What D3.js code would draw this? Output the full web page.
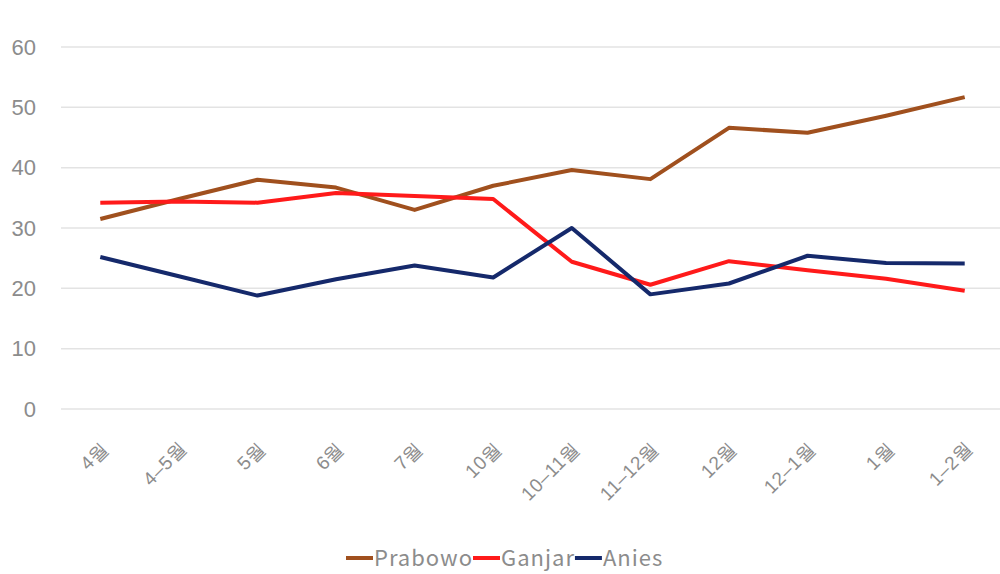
<!DOCTYPE html>
<html>
<head>
<meta charset="utf-8">
<script src="https://cdn.jsdelivr.net/npm/d3@7"></script>
<style>
  body { margin: 0; background: #fff; }
  svg { display: block; font-family: "Noto Sans CJK KR", "Noto Sans", sans-serif; }
  .grid line { stroke: #e3e3e3; stroke-width: 1.5; }
  .tick text { fill: #8c8c8c; }
</style>
</head>
<body>
<svg id="chart" width="1000" height="574"></svg>
<script>
// categories and series
var months = ['4월', '4–5월', '5월', '6월', '7월', '10월', '10–11월', '11–12월', '12월', '12–1월', '1월', '1–2월'];
var prabowo = [31.5, 34.8, 38.0, 36.7, 33.0, 37.0, 39.6, 38.1, 46.6, 45.8, 48.6, 51.7];
var ganjar = [34.2, 34.4, 34.2, 35.8, 35.3, 34.8, 24.4, 20.6, 24.5, 23.0, 21.6, 19.6];
var anies = [25.2, 22.0, 18.8, 21.5, 23.8, 21.8, 30.0, 19.0, 20.8, 25.4, 24.2, 24.1];
var yTicks = [0, 10, 20, 30, 40, 50, 60];

var series = [
  {name: 'Prabowo', color: '#a0501e', values: prabowo},
  {name: 'Ganjar', color: '#ff1a1a', values: ganjar},
  {name: 'Anies', color: '#15296b', values: anies}
];

var svg = d3.select('#chart');
var plotLeft = 61, plotRight = 1004, plotTop = 47, plotBottom = 409;

// Scales
var x = d3.scalePoint().domain(months).range([plotLeft, plotRight]).padding(0.5);
var y = d3.scaleLinear().domain([0, 60]).range([plotBottom, plotTop]);

// Horizontal grid
svg.append('g')
  .attr('class', 'grid')
  .selectAll('line')
  .data(yTicks).enter()
  .append('line')
  .attr('x1', plotLeft).attr('x2', 1000)
  .attr('y1', function(d) { return y(d); })
  .attr('y2', function(d) { return y(d); });

// Y axis labels
var yAxis = svg.append('g')
  .attr('transform', 'translate(36,0)')
  .call(d3.axisLeft(y).tickValues(yTicks).tickSize(0).tickPadding(0));
yAxis.select('.domain').remove();
yAxis.selectAll('text').style('font-size', '22px');

// X axis labels, rotated
var xAxis = svg.append('g')
  .attr('transform', 'translate(0,' + (plotBottom + 36) + ')')
  .call(d3.axisBottom(x).tickSize(0).tickPadding(0));
xAxis.select('.domain').remove();
xAxis.selectAll('text')
  .style('font-size', '19px')
  .style('letter-spacing', '0.5px')
  .attr('y', 0)
  .attr('text-anchor', 'end')
  .attr('dy', '0.35em')
  .attr('transform', 'translate(4,0) rotate(-45)');

// Lines
var line = d3.line()
  .x(function(d, i) { return x(months[i]); })
  .y(function(d) { return y(d); });

svg.selectAll('.series')
  .data(series).enter()
  .append('path')
  .attr('class', 'series')
  .attr('fill', 'none')
  .attr('stroke', function(d) { return d.color; })
  .attr('stroke-width', 4)
  .attr('stroke-linejoin', 'round')
  .attr('d', function(d) { return line(d.values); });

// Legend
var legend = svg.append('g').attr('transform', 'translate(0,558)');
var lx = 346;
series.forEach(function(s) {
  legend.append('line')
    .attr('x1', lx).attr('x2', lx + 27)
    .attr('y1', 0).attr('y2', 0)
    .attr('stroke', s.color).attr('stroke-width', 4);
  var t = legend.append('text')
    .attr('x', lx + 28).attr('y', 0).attr('dy', '0.35em')
    .style('font-size', '22px').style('letter-spacing', '1px')
    .style('fill', '#8c8c8c')
    .text(s.name);
  lx += 28 + t.node().getComputedTextLength();
});
</script>
</body>
</html>
